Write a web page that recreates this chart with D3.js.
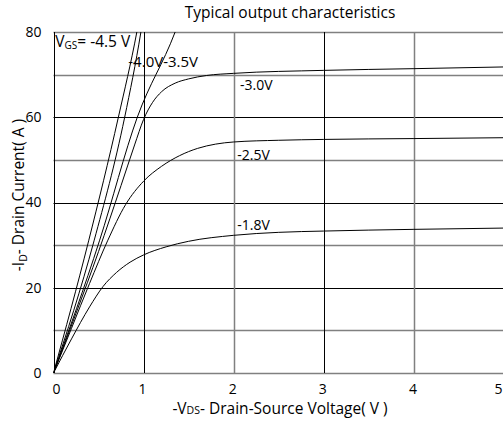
<!DOCTYPE html>
<html>
<head>
<meta charset="utf-8">
<script src="https://cdn.jsdelivr.net/npm/d3@7"></script>
<style>
  body { margin: 0; background: #fff; }
  svg { display: block; font-family: "Open Sans", sans-serif; }
</style>
</head>
<body>
<div id="chart"></div>
<script>
// tick values and grid lines
const xTicks = [0, 1, 2, 3, 4, 5];
const yTicks = [0, 20, 40, 60, 80];
const xGrid = [0, 1, 2, 3, 4];
const yGrid = [0, 10, 20, 30, 40, 50, 60, 70, 80];

// curves: [ -VDS (V), -ID (A) ]
const vgs45 = [[0, 0], [0.39, 31], [0.72, 60], [0.925, 80], [0.96, 84]];
const vgs40 = [[0, 0], [0.45, 31], [0.79, 60], [0.97, 80], [1.0, 84]];
const vgs35 = [[0, 0], [0.51, 31], [0.93, 60], [1.35, 80], [1.42, 84]];
const vgs30 = [[0, 0], [0.25, 14], [0.5, 28.5], [0.75, 44], [0.9, 53.5], [1, 59.5], [1.1, 63.5],
               [1.2, 66], [1.35, 68], [1.5, 69], [1.7, 69.8], [2, 70.3], [3, 71], [4, 71.4], [5, 71.8]];
const vgs25 = [[0, 0], [0.2, 10.5], [0.4, 21], [0.6, 31], [0.8, 39.5], [1, 45], [1.2, 48.5],
               [1.4, 51], [1.6, 52.7], [1.8, 53.7], [2, 54.2], [2.5, 54.6], [3, 54.8], [4, 55], [5, 55.2]];
const vgs18 = [[0, 0], [0.2, 8], [0.4, 15.5], [0.55, 20.3], [0.7, 23.6], [0.85, 26], [1, 27.7],
               [1.25, 29.6], [1.5, 30.9], [2, 32.3], [2.5, 33], [3, 33.3], [4, 33.7], [5, 34]];

const series = [vgs45, vgs40, vgs35, vgs30, vgs25, vgs18];

// curve labels: text and anchor in data units
const curveLabels = [
  { text: "-4.0V-3.5V", x: 0.83, y: 71.8, size: 15 },
  { text: "-3.0V", x: 2.07, y: 66.4, size: 14 },
  { text: "-2.5V", x: 2.04, y: 50.0, size: 14 },
  { text: "-1.8V", x: 2.04, y: 33.5, size: 14 }
];

function draw() {
  const width = 503, height = 425;
  const margin = { top: 32, right: -1, bottom: 52, left: 53.5 };

  const svg = d3.select("#chart").append("svg")
      .attr("width", width)
      .attr("height", height);

  const xScale = d3.scaleLinear().domain([0, 5]).range([margin.left, width - margin.right]);
  const yScale = d3.scaleLinear().domain([0, 80]).range([height - margin.bottom, margin.top]);

  const grey = "#808080";
  const isDarkY = v => v === 20 || v === 40 || v === 60;
  const isDarkX = v => v === 0 || v === 1 || v === 3;

  // grid
  svg.append("g").selectAll("line")
    .data(yGrid)
    .join("line")
      .attr("x1", xScale(0))
      .attr("x2", xScale(5))
      .attr("y1", d => Math.round(yScale(d)) + 0.5)
      .attr("y2", d => Math.round(yScale(d)) + 0.5)
      .attr("stroke", d => isDarkY(d) ? "#000" : grey)
      .attr("stroke-width", d => isDarkY(d) ? 1 : 1.5);

  svg.append("g").selectAll("line")
    .data(xGrid)
    .join("line")
      .attr("x1", d => Math.round(xScale(d)) + 0.5)
      .attr("x2", d => Math.round(xScale(d)) + 0.5)
      .attr("y1", yScale(0))
      .attr("y2", yScale(80))
      .attr("stroke", d => isDarkX(d) ? "#000" : grey)
      .attr("stroke-width", d => isDarkX(d) ? 1 : 1.5);

  // clip for the curves
  svg.append("defs").append("clipPath")
      .attr("id", "clip")
    .append("rect")
      .attr("x", xScale(0))
      .attr("y", yScale(80))
      .attr("width", xScale(5) - xScale(0))
      .attr("height", yScale(0) - yScale(80));

  const line = d3.line()
      .x(d => xScale(d[0]))
      .y(d => yScale(d[1]))
      .curve(d3.curveMonotoneX);

  svg.append("g")
      .attr("clip-path", "url(#clip)")
    .selectAll("path")
    .data(series)
    .join("path")
      .attr("d", line)
      .attr("fill", "none")
      .attr("stroke", "#000")
      .attr("stroke-width", 1);

  // axes (labels only)
  const xAxis = svg.append("g")
      .attr("transform", `translate(0, ${yScale(0) + 8})`)
      .call(d3.axisBottom(xScale).tickValues(xTicks).tickSize(0).tickFormat(d3.format("d")));
  xAxis.select(".domain").remove();
  xAxis.selectAll("text")
      .attr("font-family", "Open Sans, sans-serif")
      .attr("font-size", 14)
      .attr("fill", "#000")
      .attr("dx", d => d === 0 ? 2.5 : d === 5 ? -6 : -1.5);

  const yAxis = svg.append("g")
      .attr("transform", `translate(${xScale(0) - 9}, 0)`)
      .call(d3.axisLeft(yScale).tickValues(yTicks).tickSize(0).tickFormat(d3.format("d")));
  yAxis.select(".domain").remove();
  yAxis.selectAll("text")
      .attr("font-family", "Open Sans, sans-serif")
      .attr("font-size", 14)
      .attr("fill", "#000");

  // title
  svg.append("text")
      .attr("x", 290)
      .attr("y", 18)
      .attr("text-anchor", "middle")
      .attr("font-size", 15.5)
      .text("Typical output characteristics");

  // x axis title
  const xt = svg.append("text")
      .attr("x", 280)
      .attr("y", 414)
      .attr("text-anchor", "middle")
      .attr("font-size", 15.5);
  xt.append("tspan").text("-V");
  xt.append("tspan").attr("font-size", 10.5).text("DS");
  xt.append("tspan").text("- Drain-Source Voltage( V )");

  // y axis title
  const yt = svg.append("text")
      .attr("transform", "translate(24, 195) rotate(-90)")
      .attr("text-anchor", "middle")
      .attr("font-size", 15.5);
  yt.append("tspan").text("-I");
  yt.append("tspan").attr("font-size", 10.5).attr("dy", 3).text("D");
  yt.append("tspan").attr("dy", -3).text("- Drain Current( A )");

  // VGS label
  const vl = svg.append("text")
      .attr("x", xScale(0.02))
      .attr("y", yScale(76.5))
      .attr("font-size", 15.5);
  vl.append("tspan").text("V");
  vl.append("tspan").attr("font-size", 10).attr("dy", 2).text("GS");
  vl.append("tspan").attr("dy", -2).text("= -4.5 V");

  svg.append("g").selectAll("text")
    .data(curveLabels)
    .join("text")
      .attr("x", d => xScale(d.x))
      .attr("y", d => yScale(d.y))
      .attr("font-size", d => d.size)
      .text(d => d.text);
}

draw();
</script>
</body>
</html>
